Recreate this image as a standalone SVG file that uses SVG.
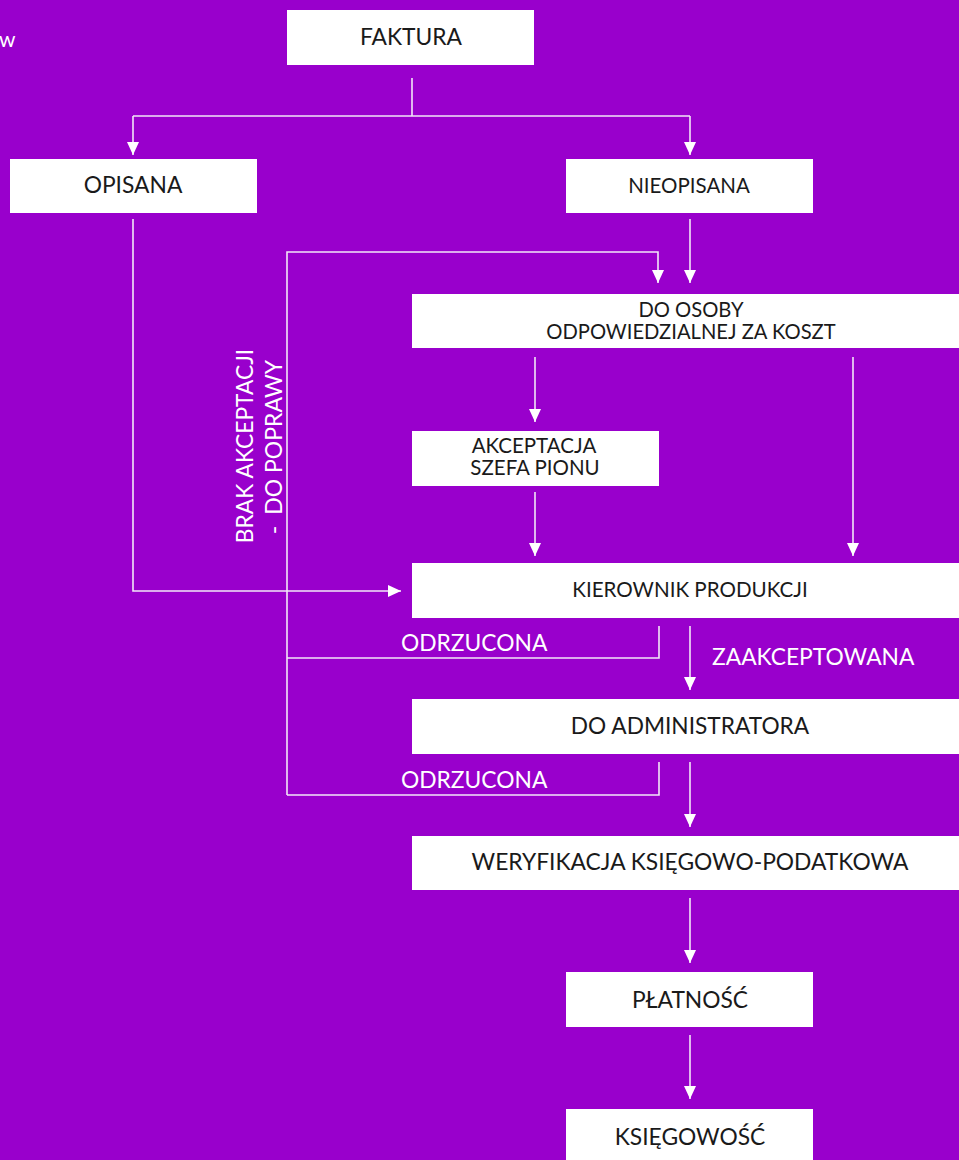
<svg xmlns="http://www.w3.org/2000/svg" width="959" height="1160" viewBox="0 0 959 1160">
<style>
.box{fill:#ffffff}
.lbl{font-family:Lato,"Liberation Sans",sans-serif;fill:#1a1a1a;text-anchor:middle}
.wl{font-family:Lato,"Liberation Sans",sans-serif;fill:#ffffff}
.c{fill:none;stroke:#f2e6f7;stroke-width:1.6}
</style>
<defs>
<marker id="ah" viewBox="0 0 13 12" refX="13" refY="6" markerWidth="13" markerHeight="12" markerUnits="userSpaceOnUse" orient="auto">
<path d="M0,0 L13,6 L0,12 Z" fill="#ffffff"/>
</marker>
</defs>
<rect width="959" height="1160" fill="#9900cc"/>
<text class="wl" x="-1" y="47" font-size="21">w</text>
<g id="connectors">
<path class="c" d="M412,78 V116"/>
<path class="c" d="M133,116 H690"/>
<path class="c" d="M133,116 V155" marker-end="url(#ah)"/>
<path class="c" d="M690,116 V155" marker-end="url(#ah)"/>
<path class="c" d="M133,219 V591 H401" marker-end="url(#ah)"/>
<path class="c" d="M690,219 V283" marker-end="url(#ah)"/>
<path class="c" d="M287,795 V252 H658 V283" marker-end="url(#ah)"/>
<path class="c" d="M535,357 V422" marker-end="url(#ah)"/>
<path class="c" d="M853,357 V556" marker-end="url(#ah)"/>
<path class="c" d="M535,492 V556" marker-end="url(#ah)"/>
<path class="c" d="M659,626 V658 H287"/>
<path class="c" d="M690,626 V690" marker-end="url(#ah)"/>
<path class="c" d="M659,762 V795 H287"/>
<path class="c" d="M690,762 V827" marker-end="url(#ah)"/>
<path class="c" d="M690,898 V963" marker-end="url(#ah)"/>
<path class="c" d="M690,1035 V1099" marker-end="url(#ah)"/>
<text class="wl" x="401" y="651" font-size="22.8">ODRZUCONA</text>
<text class="wl" x="401" y="788" font-size="22.8">ODRZUCONA</text>
<text class="wl" x="712" y="665" font-size="22.8">ZAAKCEPTOWANA</text>
<g transform="translate(253,446) rotate(-90)"><text class="wl" x="0" y="0" font-size="22.8" text-anchor="middle">BRAK AKCEPTACJI</text></g>
<g transform="translate(282,447) rotate(-90)"><text class="wl" x="0" y="0" font-size="23" text-anchor="middle">- <tspan dx="5">DO POPRAWY</tspan></text></g>
</g>
<g id="faktura"><rect class="box" x="287" y="10" width="247" height="55"/><text class="lbl" x="411" y="45" font-size="22.8">FAKTURA</text></g>
<g id="opisana"><rect class="box" x="10" y="159" width="247" height="54"/><text class="lbl" x="133" y="193" font-size="22.8">OPISANA</text></g>
<g id="nieopisana"><rect class="box" x="566" y="159" width="247" height="54"/><text class="lbl" x="689" y="193" font-size="20.5">NIEOPISANA</text></g>
<g id="do-osoby"><rect class="box" x="412" y="294" width="547" height="54"/><text class="lbl" x="691" y="317" font-size="20.2">DO OSOBY</text><text class="lbl" x="691" y="339" font-size="20.2">ODPOWIEDZIALNEJ ZA KOSZT</text></g>
<g id="akceptacja"><rect class="box" x="412" y="431" width="247" height="55"/><text class="lbl" x="534" y="453" font-size="20.5">AKCEPTACJA</text><text class="lbl" x="535" y="475" font-size="20.5">SZEFA PIONU</text></g>
<g id="kierownik"><rect class="box" x="412" y="563" width="547" height="55"/><text class="lbl" x="690" y="597" font-size="20.6">KIEROWNIK PRODUKCJI</text></g>
<g id="administrator"><rect class="box" x="412" y="699" width="547" height="55"/><text class="lbl" x="690" y="734" font-size="22.7">DO ADMINISTRATORA</text></g>
<g id="weryfikacja"><rect class="box" x="412" y="836" width="547" height="54"/><text class="lbl" x="690" y="870" font-size="22.8">WERYFIKACJA KSIĘGOWO-PODATKOWA</text></g>
<g id="platnosc"><rect class="box" x="566" y="972" width="247" height="55"/><text class="lbl" x="690" y="1008" font-size="22.8">PŁATNOŚĆ</text></g>
<g id="ksiegowosc"><rect class="box" x="566" y="1109" width="247" height="60"/><text class="lbl" x="690" y="1145" font-size="22.8">KSIĘGOWOŚĆ</text></g>
</svg>
